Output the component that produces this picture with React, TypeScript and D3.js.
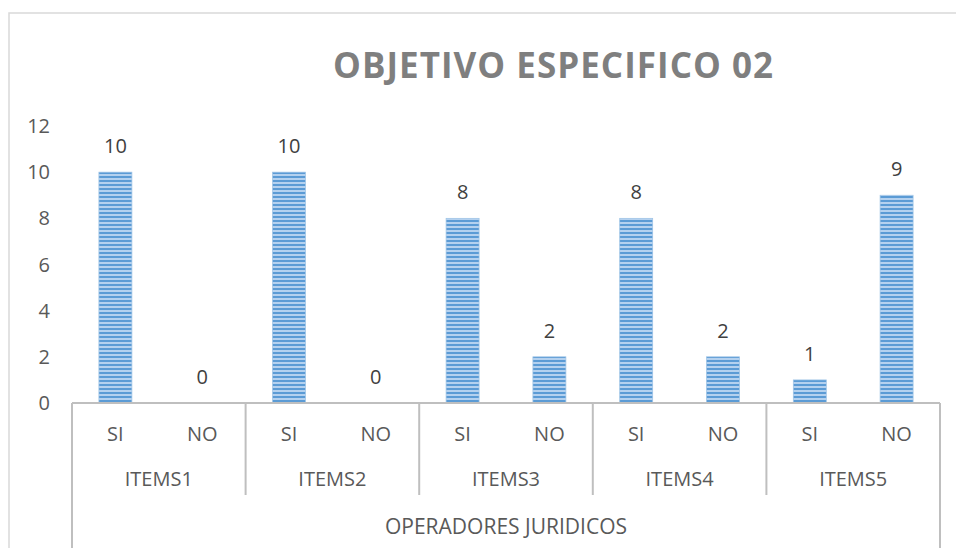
import React from 'react';
import * as d3 from 'd3';

const groups = ['ITEMS1', 'ITEMS2', 'ITEMS3', 'ITEMS4', 'ITEMS5'];
const subs = ['SI', 'NO'];
const siValues = [10, 10, 8, 8, 1];
const noValues = [0, 0, 2, 2, 9];
const yTicks = [0, 2, 4, 6, 8, 10, 12];
const axisTitle = 'OPERADORES JURIDICOS';
const chartTitle = 'OBJETIVO ESPECIFICO 02';

const W = 956;
const H = 548;
const left = 72;
const right = 940;
const base = 403;
const top = 126;
const font = '"Open Sans", sans-serif';
const fs = 20;

export default function App() {
  const x0 = d3.scaleBand<string>().domain(groups).range([left, right]);
  const x1 = d3.scaleBand<string>().domain(subs).range([0, x0.bandwidth()]);
  const y = d3.scaleLinear().domain([0, 12]).range([base, top]);
  const barW = x1.bandwidth() * 0.38;

  const rows = groups.flatMap((g, i) => [
    { g, s: 'SI', v: siValues[i] },
    { g, s: 'NO', v: noValues[i] },
  ]);

  const lineColor = '#bfbfbf';

  return (
    <svg width={W} height={H} style={{ position: 'absolute', left: 0, top: 0 }}>
      <defs>
        <pattern id="stripes" patternUnits="userSpaceOnUse" width={4} height={4}>
          <rect width={4} height={4} fill="#b4d1ef" />
          <rect width={4} height={2} fill="#5b9bd5" />
        </pattern>
      </defs>
      <rect x={0} y={0} width={W} height={H} fill="#fff" />
      <rect x={9} y={13} width={W + 20} height={H + 20} fill="#fff" stroke="#d9d9d9" strokeWidth={1.5} />

      <text
        x={553}
        y={78}
        textAnchor="middle"
        fontFamily={font}
        fontWeight="bold"
        fontSize={35}
        textLength={440}
        lengthAdjust="spacing"
        fill="#7f7f7f"
      >
        {chartTitle}
      </text>

      {yTicks.map((t) => (
        <text
          key={t}
          x={50}
          y={y(t)}
          dy="0.35em"
          textAnchor="end"
          fontFamily={font}
          fontSize={fs}
          fill="#595959"
        >
          {t}
        </text>
      ))}

      {rows.map((r) => {
        const cx = (x0(r.g) as number) + (x1(r.s) as number) + x1.bandwidth() / 2;
        return (
          <g key={r.g + r.s}>
            {r.v > 0 && (
              <rect
                x={cx - barW / 2}
                y={y(r.v)}
                width={barW}
                height={base - y(r.v)}
                fill="url(#stripes)"
                stroke="#9dc3e6"
                strokeWidth={0.75}
              />
            )}
            <text
              x={cx}
              y={y(r.v) - 19}
              textAnchor="middle"
              fontFamily={font}
              fontSize={fs}
              fill="#404040"
            >
              {r.v}
            </text>
            <text
              x={cx}
              y={434}
              dy="0.35em"
              textAnchor="middle"
              fontFamily={font}
              fontSize={fs}
              fill="#595959"
            >
              {r.s}
            </text>
          </g>
        );
      })}

      <line x1={left} x2={right} y1={base} y2={base} stroke={lineColor} strokeWidth={2} />
      {groups.map((g, i) => (
        <g key={g}>
          {i > 0 && (
            <line
              x1={x0(g)}
              x2={x0(g)}
              y1={base}
              y2={495}
              stroke={lineColor}
              strokeWidth={2}
            />
          )}
          <text
            x={(x0(g) as number) + x0.bandwidth() / 2}
            y={479}
            dy="0.35em"
            textAnchor="middle"
            fontFamily={font}
            fontSize={fs}
            fill="#595959"
          >
            {g}
          </text>
        </g>
      ))}
      <line x1={left} x2={left} y1={base} y2={H} stroke={lineColor} strokeWidth={2} />
      <line x1={right} x2={right} y1={base} y2={H} stroke={lineColor} strokeWidth={2} />
      <text
        x={(left + right) / 2}
        y={527}
        dy="0.35em"
        textAnchor="middle"
        fontFamily={font}
        fontSize={21}
        fill="#595959"
      >
        {axisTitle}
      </text>
    </svg>
  );
}
